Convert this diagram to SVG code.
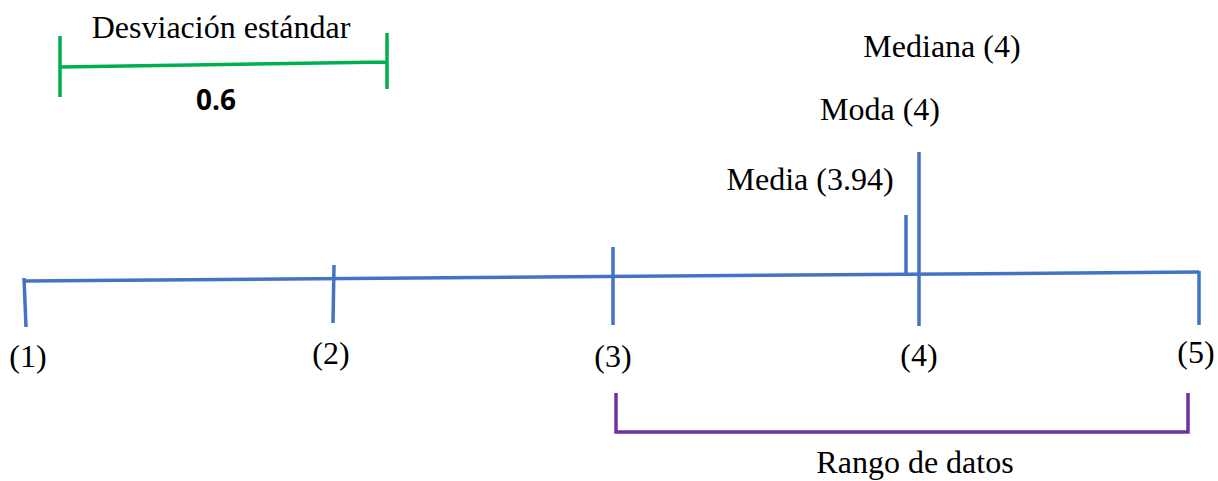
<svg xmlns="http://www.w3.org/2000/svg" width="1218" height="481" viewBox="0 0 1218 481">
<style>
.t{font-family:"Liberation Serif","Times New Roman",serif;font-size:32px;fill:#000;text-anchor:middle}
.b{stroke:#4472C4;stroke-width:3.5;fill:none}
.g{stroke:#00B050;stroke-width:3.5;fill:none}
.p{stroke:#7030A0;stroke-width:3.5;fill:none}
</style>
<rect width="1218" height="481" fill="#fff"/>
<g id="connectors">
<path class="b" d="M24 281 L1199 272"/>
</g>
<g id="desviacion">
<path class="g" d="M60 36 V97 M387 33 V89 M60 67 L387 62"/>
<text class="t" x="221" y="38">Desviación estándar</text>
<text x="216" y="110" style="font-family:'Open Sans','Liberation Sans',sans-serif;font-weight:bold;font-size:28px;text-anchor:middle">0.6</text>
</g>
<g id="tick1"><path class="b" d="M24 278 L26 327"/><text class="t" x="28" y="367">(1)</text></g>
<g id="tick2"><path class="b" d="M334 265 L333 323"/><text class="t" x="331" y="364">(2)</text></g>
<g id="tick3"><path class="b" d="M613 247 V325"/><text class="t" x="613" y="367">(3)</text></g>
<g id="tick4"><path class="b" d="M919 152 V326"/><text class="t" x="919" y="366">(4)</text></g>
<g id="tick5"><path class="b" d="M1199 271 V325"/><text class="t" x="1196" y="363">(5)</text></g>
<g id="media"><path class="b" d="M906 215 V275"/><text class="t" x="810" y="190">Media (3.94)</text></g>
<g id="moda"><text class="t" x="880" y="120">Moda (4)</text></g>
<g id="mediana"><text class="t" x="942" y="57">Mediana (4)</text></g>
<g id="rango">
<path class="p" d="M616 393 V432 H1188 V393"/>
<text class="t" x="915" y="473">Rango de datos</text>
</g>
</svg>
